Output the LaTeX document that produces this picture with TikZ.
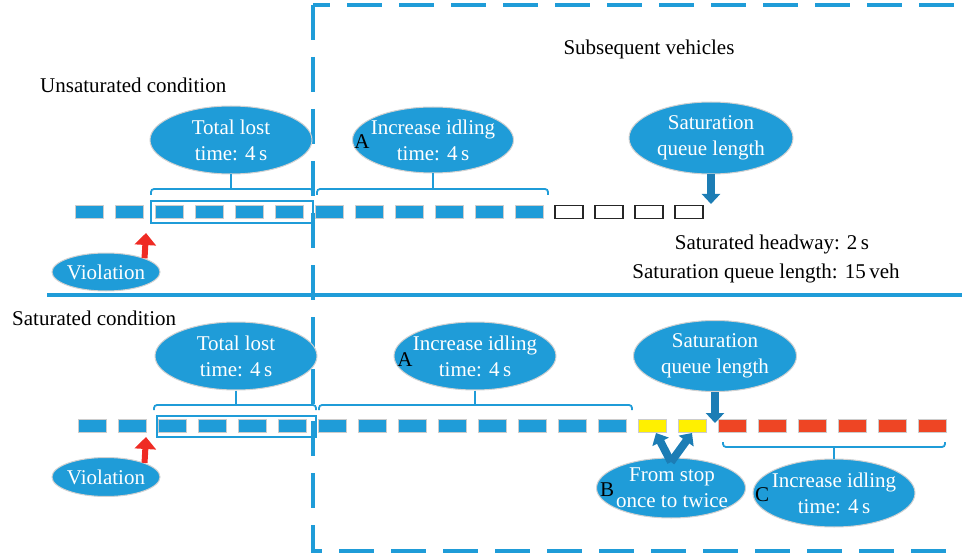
\documentclass[tikz,border=0pt]{standalone}
\usepackage{fontspec}
\setmainfont{Liberation Serif}
\usetikzlibrary{shapes.geometric,arrows.meta}
\definecolor{cblue}{HTML}{1F9CD8}
\definecolor{dblue}{HTML}{1C7DB5}
\definecolor{cred}{HTML}{EF2B24}
\definecolor{cora}{HTML}{EE4524}
\definecolor{cyel}{HTML}{FFF000}
\begin{document}
\begin{tikzpicture}[x=1pt,y=-1pt,font=\fontsize{21}{26}\selectfont,
  car/.style={minimum width=28pt,minimum height=13pt,inner sep=0pt,draw=black!20,line width=0.8pt,fill=cblue},
  ecar/.style={car,fill=white,draw=black!85,line width=1.1pt},
  ycar/.style={car,fill=cyel},
  rcar/.style={car,fill=cora},
  bub/.style={ellipse,fill=cblue,draw=black!18,line width=1pt,inner sep=0pt},
  btext/.style={text=white,align=center,inner sep=0pt},
  brace/.style={draw=cblue,line width=1.8pt,rounded corners=3pt},
  frame/.style={draw=cblue,line width=4pt,dash pattern=on 35pt off 17pt},
  grp/.style={draw=cblue,line width=1.6pt},
  redarrow/.style={draw=cred,line width=6pt,-{Triangle[width=21pt,length=12pt]}},
  bluearrow/.style={draw=dblue,line width=8pt,-{Triangle[width=18pt,length=10pt]}},
  letter/.style={text=black,inner sep=0pt}]
\useasboundingbox (0,0) rectangle (962,559);

% dashed frame
\draw[frame,dash phase=18pt] (313,5) -- (962,5);
\draw[frame] (313,5) -- (313,551) -- (962,551);
% separator
\draw[draw=cblue,line width=4pt] (47,295) -- (962,295);

% titles
\node[anchor=west,inner sep=0pt] (t1) at (40,85) {Unsaturated condition};
\node[anchor=west,inner sep=0pt] (t2) at (12,318) {Saturated condition};
\node[inner sep=0pt] (t3) at (649,49) {Subsequent vehicles};
\node[inner sep=0pt] (t4) at (772,244) {Saturated headway: 2\,s};
\node[inner sep=0pt] (t5) at (766,273) {Saturation queue length: 15\,veh};

% unsaturated row
\foreach \i in {0,...,11} \node[car] (u\i) at (89+40*\i,212) {};
\foreach \i in {12,...,15} \node[ecar] (u\i) at (89+40*\i,212) {};
\draw[grp] (151,201) rectangle (313,223);

% saturated row
\foreach \i in {0,...,13} \node[car] (s\i) at (92+40*\i,426) {};
\foreach \i in {14,15} \node[ycar] (s\i) at (92+40*\i,426) {};
\foreach \i in {16,...,21} \node[rcar] (s\i) at (92+40*\i,426) {};
\draw[grp] (157,416) rectangle (316,437);

% top ellipses
\node[bub,minimum width=162pt,minimum height=68pt] (tl1) at (231,140) {};
\node[btext] at (tl1) {Total lost\\time: 4\,s};
\node[bub,minimum width=161pt,minimum height=66pt] (ii1) at (433,140) {};
\node[btext] at (ii1) {Increase idling\\time: 4\,s};
\node[letter] (la1) at (362,142) {A};
\node[bub,minimum width=164pt,minimum height=72pt] (sq1) at (711,138) {};
\node[btext] at (sq1) {Saturation\\queue length};
\node[bub,minimum width=108pt,minimum height=38pt] (v1) at (106,272) {};
\node[btext] at (v1) {Violation};

% top braces
\coordinate (b1m) at (231,189);
\draw[brace] (151,195) -- (151,189) -- (313,189) -- (313,195);
\draw[brace] (tl1.south) -- (b1m);
\coordinate (b2m) at (433,189);
\draw[brace] (317,195) -- (317,189) -- (548,189) -- (548,195);
\draw[brace] (ii1.south) -- (b2m);

% top arrows
\coordinate (ra1) at (146,233);
\draw[redarrow] (v1.north east) -- (ra1);
\coordinate (qa1) at (711,204);
\draw[bluearrow] (sq1.south) -- (qa1);

% bottom ellipses
\node[bub,minimum width=162pt,minimum height=68pt] (tl2) at (236,356) {};
\node[btext] at (tl2) {Total lost\\time: 4\,s};
\node[bub,minimum width=162pt,minimum height=68pt] (ii2) at (475,356) {};
\node[btext] at (ii2) {Increase idling\\time: 4\,s};
\node[letter] (la2) at (405,360) {A};
\node[bub,minimum width=149pt,minimum height=60pt] (fs) at (671,488) {};
\node[btext] at (672,488) {From stop\\once to twice};
\node[letter] (lb) at (607,490) {B};
\node[bub,minimum width=163pt,minimum height=71pt] (sq2) at (715,356) {};
\node[btext] at (sq2) {Saturation\\queue length};
\node[bub,minimum width=162pt,minimum height=68pt] (ic) at (834,493) {};
\node[btext] at (ic) {Increase idling\\time: 4\,s};
\node[letter] (lc) at (762,495) {C};
\node[bub,minimum width=108pt,minimum height=39pt] (v2) at (106,477) {};
\node[btext] at (v2) {Violation};

% bottom braces
\coordinate (b3m) at (236,405);
\draw[brace] (154,410) -- (154,405) -- (316,405) -- (316,410);
\draw[brace] (tl2.south) -- (b3m);
\coordinate (b4m) at (475,405);
\draw[brace] (319,410) -- (319,405) -- (632,405) -- (632,410);
\draw[brace] (ii2.south) -- (b4m);
\coordinate (b5m) at (834,447);
\draw[brace] (723,442) -- (723,447) -- (945,447) -- (945,442);
\draw[brace] (ic.north) -- (b5m);

% bottom arrows
\coordinate (ra2) at (146,437);
\draw[redarrow] (v2.north east) -- (ra2);
\coordinate (qa2) at (715,423);
\draw[bluearrow] (sq2.south) -- (qa2);
\coordinate (fa) at (671,462);
\coordinate (ya) at (656,433);
\coordinate (yb) at (692,433);
\draw[bluearrow] (fa) -- (ya);
\draw[bluearrow] (fa) -- (yb);
\end{tikzpicture}
\end{document}
